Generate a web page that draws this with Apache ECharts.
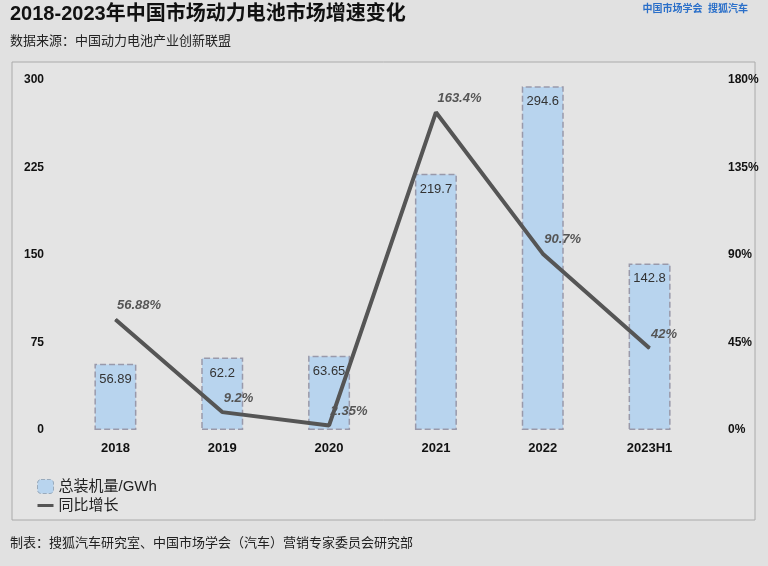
<!DOCTYPE html>
<html><head><meta charset="utf-8">
<script src="https://cdn.jsdelivr.net/npm/echarts@6/dist/echarts.min.js"></script>
<style>html,body{margin:0;background:#e1e1e1}#c{width:768px;height:566px}</style>
</head><body><div id="c"></div>
<script>
var years = ['2018', '2019', '2020', '2021', '2022', '2023H1'];
var installed = [56.89, 62.2, 63.65, 219.7, 294.6, 142.8];
var growth = [56.88, 9.2, 2.35, 163.4, 90.7, 42];
var growthLabels = ['56.88%', '9.2%', '2.35%', '163.4%', '90.7%', '42%'];

var font = '"Liberation Sans", "Noto Sans CJK SC", sans-serif';
var chart = echarts.init(document.getElementById('c'));
chart.setOption({
	backgroundColor: '#e1e1e1',
	textStyle: { fontFamily: font },
	graphic: [
		{ type: 'rect', shape: { x: 12, y: 62, width: 743, height: 458 }, style: { fill: '#e4e4e4', stroke: '#aaa', lineWidth: 1 }, z: -1 },
		{ type: 'text', left: 10, top: 4, style: { text: '2018-2023年中国市场动力电池市场增速变化', font: 'bold 20px ' + font, fill: '#111' } },
		{ type: 'text', left: 10, top: 35, style: { text: '数据来源：中国动力电池产业创新联盟', font: '13px ' + font, fill: '#222' } },
		{ type: 'text', left: 10, top: 537, style: { text: '制表：搜狐汽车研究室、中国市场学会（汽车）营销专家委员会研究部', font: '13px ' + font, fill: '#222' } },
		{ type: 'text', right: 20, top: 4, style: { text: '中国市场学会  搜狐汽车', font: 'bold 10px ' + font, fill: '#2a6fc9' } }
	],
	legend: {
		orient: 'vertical', left: 32, top: 474, itemGap: 4, itemWidth: 16, itemHeight: 14,
		textStyle: { fontSize: 15, color: '#222' },
		data: [
			{ name: '总装机量/GWh', itemStyle: { color: '#b8d4ee', borderColor: '#9ab', borderType: 'dashed', borderWidth: 1 } },
			{ name: '同比增长', icon: 'path://M0,6 L16,6 L16,9 L0,9 Z', itemStyle: { color: '#555' } }
		]
	},
	grid: { left: 62, right: 65, top: 80, bottom: 136 },
	xAxis: {
		type: 'category', data: years,
		axisLine: { show: false }, axisTick: { show: false },
		axisLabel: { fontWeight: 'bold', color: '#111', fontSize: 13, margin: 12 }
	},
	yAxis: [
		{ type: 'value', min: 0, max: 300, interval: 75, splitLine: { show: false },
		  axisLabel: { fontWeight: 'bold', color: '#111', fontSize: 12, margin: 18 } },
		{ type: 'value', min: 0, max: 180, interval: 45, splitLine: { show: false },
		  axisLabel: { formatter: '{value}%', fontWeight: 'bold', color: '#111', fontSize: 12, margin: 25 } }
	],
	series: [
		{
			name: '总装机量/GWh', type: 'bar', data: installed, barWidth: 42,
			itemStyle: { color: '#b8d4ee', borderColor: '#99a', borderType: 'dashed', borderWidth: 1.5 },
			label: { show: true, position: 'insideTop', offset: [0, 4], color: '#333', fontSize: 13 }
		},
		{
			name: '同比增长', type: 'line', yAxisIndex: 1, data: growth, symbol: 'circle', symbolSize: 1, showSymbol: true,
			itemStyle: { color: '#555' },
			lineStyle: { color: '#555', width: 4 },
			label: { show: true, position: 'right', offset: [-4, -14], color: '#555', fontStyle: 'italic', fontWeight: 'bold', fontSize: 13,
				formatter: function (p) { return growthLabels[p.dataIndex]; } }
		}
	]
});
</script></body></html>
